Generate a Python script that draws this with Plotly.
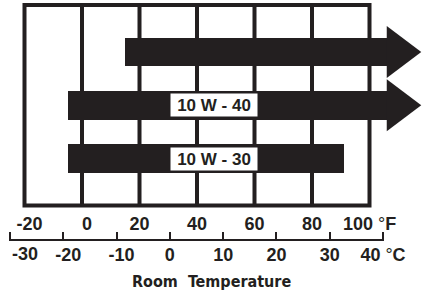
import plotly.graph_objects as go

# ---- data ----
f_ticks = [-20, 0, 20, 40, 60, 80, 100]
f_labels = ["\u00a0\u00a0-20", "\u00a0\u00a00", "20", "40", "60", "80",
            "100 <span style='font-weight:normal'>°</span>F"]
c_ticks = [-30, -20, -10, 0, 10, 20, 30, 40]
c_labels = ["", "\u00a0\u00a0-20", "\u00a0\u00a0-10", "0", "10", "20", "30",
            "40 <span style='font-weight:normal'>°</span>C"]
c_first_label = "-30"
rows = [0, 1, 2]
grades = ["", "10 W - 40", "10 W - 30"]
start_f = [15, -5, -5]
end_f = [118, 118, 91]
open_ended = [True, True, False]

INK = "#231f20"
HEAD_LEN = 12.0     # in degF
HEAD_HALF = 0.49    # in row units
BAR_W = 0.54
FRAME_TOP, FRAME_BOT = -0.883, 2.883
H = 295.0
W = 423.0
C_PAD = 0.25        # small range padding so the end ticks are kept
C_PX = 373.0 / 70.0

fig = go.Figure()

body_end = [e - HEAD_LEN if o else e for e, o in zip(end_f, open_ended)]
fig.add_trace(go.Bar(
    y=rows, x=[b - s for b, s in zip(body_end, start_f)], base=start_f,
    orientation="h", width=BAR_W, marker=dict(color=INK, line=dict(width=0)),
    showlegend=False, hoverinfo="skip"))

for r, e, o in zip(rows, end_f, open_ended):
    if o:
        fig.add_trace(go.Scatter(
            x=[e - HEAD_LEN, e, e - HEAD_LEN, e - HEAD_LEN],
            y=[r - HEAD_HALF, r, r + HEAD_HALF, r - HEAD_HALF],
            mode="lines", fill="toself", fillcolor=INK, line=dict(width=0, color=INK),
            showlegend=False, hoverinfo="skip"))

# invisible trace to create the Celsius axis subplot
fig.add_trace(go.Scatter(x=[c_ticks[0]], y=[0], xaxis="x2", yaxis="y2",
                         mode="markers", marker=dict(opacity=0), showlegend=False,
                         hoverinfo="skip"))

shapes = [dict(type="rect", xref="x", yref="y", x0=f_ticks[0], x1=f_ticks[-1],
               y0=FRAME_TOP, y1=FRAME_BOT, line=dict(color=INK, width=4), layer="below")]
for t in f_ticks[1:-1]:
    shapes.append(dict(type="line", xref="x", yref="y", x0=t, x1=t,
                       y0=FRAME_TOP, y1=FRAME_BOT, line=dict(color=INK, width=4), layer="below"))

tickfont = dict(family="Liberation Sans, Arial", size=18, color=INK, weight="bold")

annotations = []
for r, g in zip(rows, grades):
    if g:
        annotations.append(dict(x=46, y=r, xref="x", yref="y", text="<b>%s</b>" % g,
                                showarrow=False, bgcolor="white", width=86, height=22,
                                borderpad=0, font=dict(family="Liberation Sans, Arial", size=17, color=INK)))
annotations.append(dict(x=c_ticks[0], y=1 - 254 / H, xref="x2", yref="paper",
                        xanchor="left", yanchor="middle", text=c_first_label,
                        showarrow=False, font=tickfont))
annotations.append(dict(x=212 / W, y=1 - 281 / H, xref="paper", yref="paper",
                        xanchor="center", yanchor="middle",
                        text="<b>Room\u00a0 Temperature</b>", showarrow=False,
                        font=dict(family="DejaVu Sans Condensed, Liberation Sans Narrow, Liberation Sans",
                                  size=16, color=INK)))

fig.update_layout(
    width=423, height=295, margin=dict(l=0, r=0, t=0, b=0, autoexpand=False),
    paper_bgcolor="white", plot_bgcolor="rgba(0,0,0,0)",
    bargap=0, shapes=shapes, annotations=annotations,
    xaxis=dict(range=[-28.52, 118.61], domain=[0, 1], anchor="y", automargin=False,
               showgrid=False, zeroline=False, showline=False, ticks="",
               ticklabelstandoff=-1,
               tickvals=f_ticks, ticktext=f_labels, tickfont=tickfont),
    yaxis=dict(range=[3.0047, -0.9765], domain=[1 - 212 / H, 1], visible=False, automargin=False),
    xaxis2=dict(range=[-30 - C_PAD, 40 + C_PAD],
                domain=[(10 - C_PAD * C_PX) / W, (383 + C_PAD * C_PX) / W],
                anchor="y2", automargin=False,
                showgrid=False, zeroline=False,
                showline=True, linewidth=2, linecolor=INK,
                ticks="inside", ticklen=7, tickwidth=2, tickcolor=INK,
                ticklabelstandoff=-2,
                tickvals=c_ticks, ticktext=c_labels, tickfont=tickfont),
    yaxis2=dict(range=[0, 1], domain=[1 - 239 / H, 1 - 232 / H], visible=False, automargin=False),
)

fig.write_html("out.html", config={"displayModeBar": False},
               post_script="document.body.style.margin='0';")
